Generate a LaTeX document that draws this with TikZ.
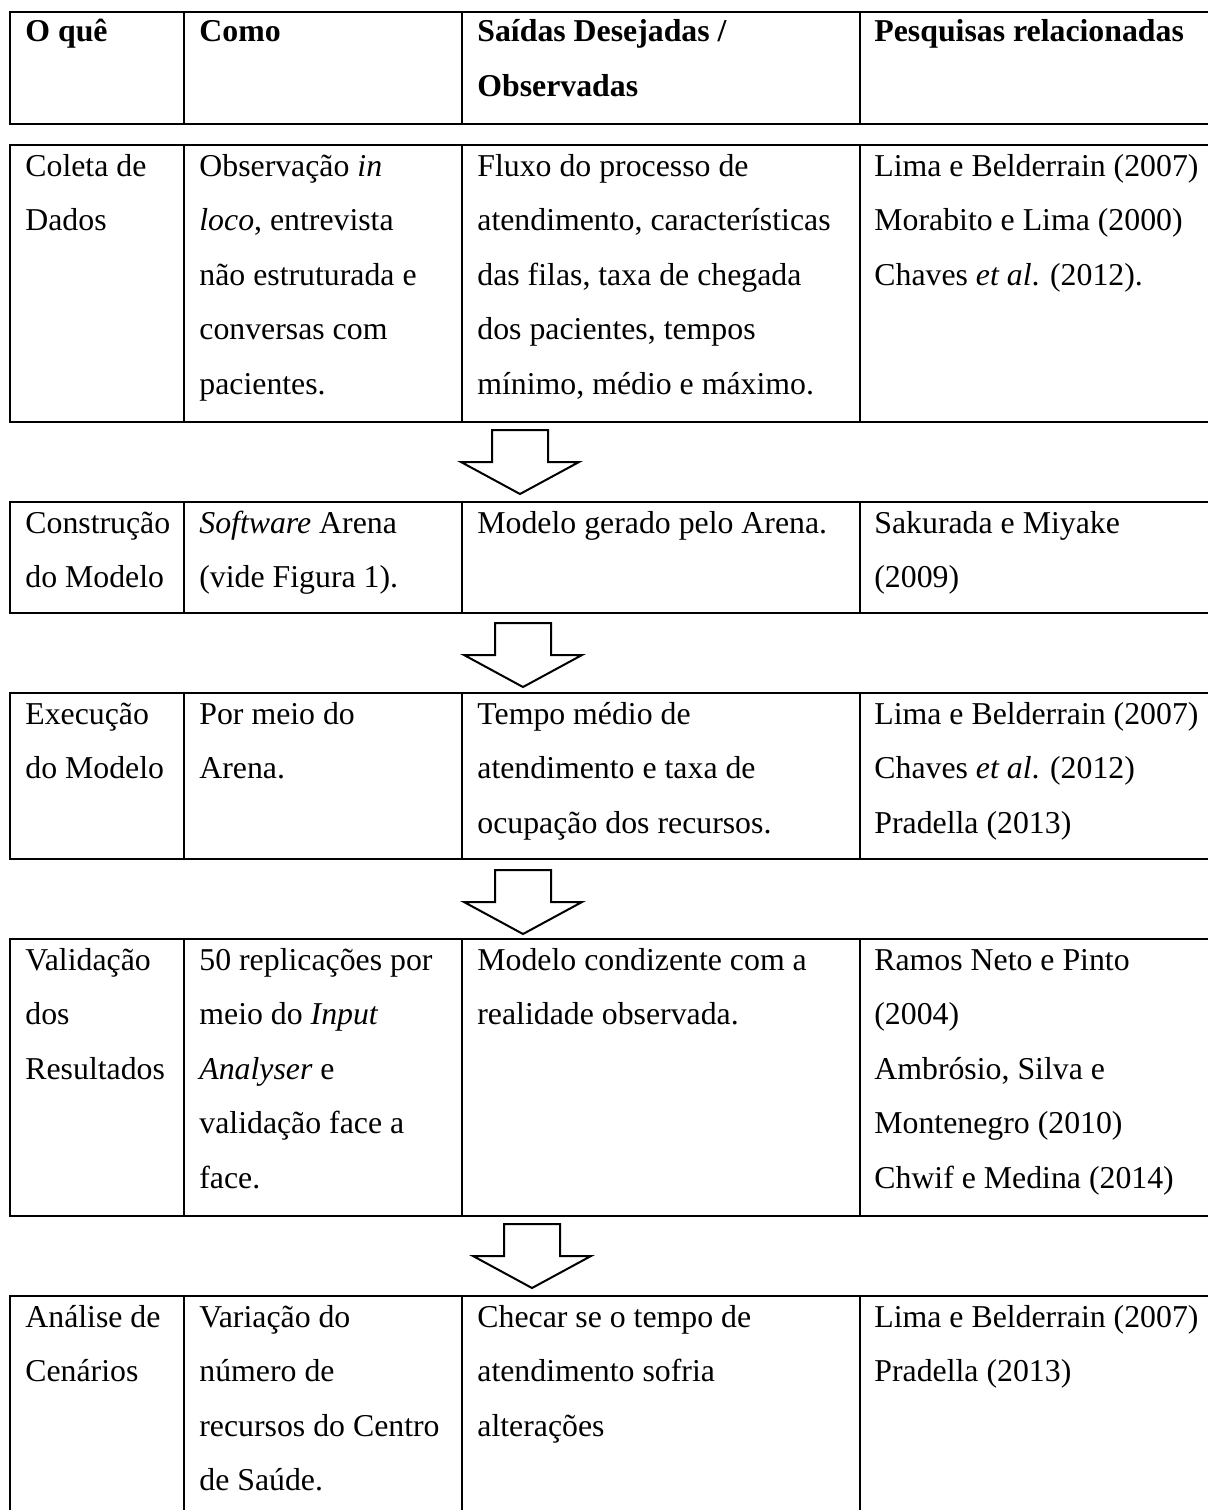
\documentclass[tikz,border=0pt]{standalone}
\usepackage{fontspec}
\setmainfont{Liberation Serif}
\usetikzlibrary{calc}
\newcommand{\fs}{\rule{0pt}{15pt}}
\newcommand{\blockarrow}[3]{%
  \coordinate (#3) at (#1,#2);
  \draw[barrow] ($(#3)+(-28,0)$) -- ($(#3)+(28,0)$) -- ($(#3)+(28,32)$) -- ($(#3)+(59,32)$)
    -- ($(#3)+(0,64)$) -- ($(#3)+(-59,32)$) -- ($(#3)+(-28,32)$) -- cycle;}
\begin{document}
\begin{tikzpicture}[x=0.5pt,y=-0.5pt,
  rule/.style={line width=1.4pt},
  cell/.style={anchor=north west,inner sep=0pt,align=left,
    font=\fontsize{15.9}{27.2}\selectfont},
  hcell/.style={cell,font=\fontsize{15.9}{27.6}\selectfont\bfseries},
  barrow/.style={draw,line width=1pt,line join=miter}]
\useasboundingbox (0,0) rectangle (1208,1510);
\fill[white] (0,0) rectangle (1208,1510);
% table rows: top, bottom
\foreach \t/\b in {12/124,145/422,502/613,693/859,939/1216,1296/1540}{
  \draw[rule] (10,\t) rectangle (1240,\b);
  \foreach \x in {184,462,860} \draw[rule] (\x,\t) -- (\x,\b);
}
% header
\node[hcell] (h1) at (25,11) {\fs O quê};
\node[hcell] (h2) at (199,11) {\fs Como};
\node[hcell] (h3) at (477,11) {\fs Saídas Desejadas /\\Observadas};
\node[hcell] (h4) at (874,11) {\fs Pesquisas relacionadas};
% row 1
\node[cell] (a1) at (25,146) {\fs Coleta de\\Dados};
\node[cell] (a2) at (199,146) {\fs Observação \textit{in}\\\textit{loco}, entrevista\\não estruturada e\\conversas com\\pacientes.};
\node[cell] (a3) at (477,146) {\fs Fluxo do processo de\\atendimento, características\\das filas, taxa de chegada\\dos pacientes, tempos\\mínimo, médio e máximo.};
\node[cell] (a4) at (874,146) {\fs Lima e Belderrain (2007)\\Morabito e Lima (2000)\\Chaves \textit{et al}. (2012).};
% row 2
\node[cell] (b1) at (25,503) {\fs Construção\\do Modelo};
\node[cell] (b2) at (199,503) {\fs \textit{Software} Arena\\(vide Figura 1).};
\node[cell] (b3) at (477,503) {\fs Modelo gerado pelo Arena.};
\node[cell] (b4) at (874,503) {\fs Sakurada e Miyake\\(2009)};
% row 3
\node[cell] (c1) at (25,694) {\fs Execução\\do Modelo};
\node[cell] (c2) at (199,694) {\fs Por meio do\\Arena.};
\node[cell] (c3) at (477,694) {\fs Tempo médio de\\atendimento e taxa de\\ocupação dos recursos.};
\node[cell] (c4) at (874,694) {\fs Lima e Belderrain (2007)\\Chaves \textit{et al}. (2012)\\Pradella (2013)};
% row 4
\node[cell] (d1) at (25,940) {\fs Validação\\dos\\Resultados};
\node[cell] (d2) at (199,940) {\fs 50 replicações por\\meio do \textit{Input}\\\textit{Analyser} e\\validação face a\\face.};
\node[cell] (d3) at (477,940) {\fs Modelo condizente com a\\realidade observada.};
\node[cell] (d4) at (874,940) {\fs Ramos Neto e Pinto\\(2004)\\Ambrósio, Silva e\\Montenegro (2010)\\Chwif e Medina (2014)};
% row 5
\node[cell] (e1) at (25,1297) {\fs Análise de\\Cenários};
\node[cell] (e2) at (199,1297) {\fs Variação do\\número de\\recursos do Centro\\de Saúde.};
\node[cell] (e3) at (477,1297) {\fs Checar se o tempo de\\atendimento sofria\\alterações};
\node[cell] (e4) at (874,1297) {\fs Lima e Belderrain (2007)\\Pradella (2013)};
% block arrows
\blockarrow{520}{430}{p1}
\blockarrow{523}{623}{p2}
\blockarrow{523}{870}{p3}
\blockarrow{532}{1224}{p4}
\end{tikzpicture}
\end{document}
